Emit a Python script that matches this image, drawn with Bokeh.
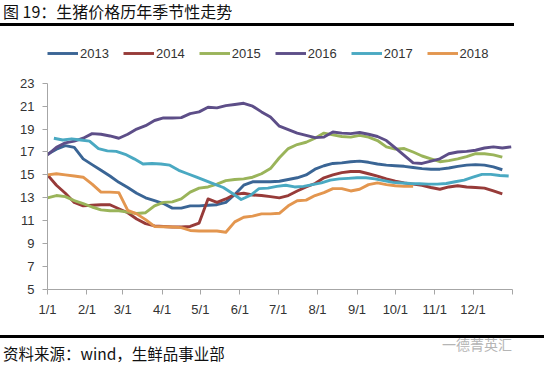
from bokeh.plotting import figure
from bokeh.models import Div, Legend, LegendItem, FixedTicker, Range1d
from bokeh.layouts import column
from bokeh.embed import file_html
from bokeh.resources import INLINE

# ---------------- data (weekly prices, yuan/kg) ----------------
years = ["2013", "2014", "2015", "2016", "2017", "2018"]
colors = ["#3A6595", "#973B39", "#9AB45A", "#5D4E88", "#4AA9C2", "#E3964F"]
start_day = {"2013": 0, "2014": 0, "2015": 0, "2016": 0, "2017": 5, "2018": 0}

p2013 = [16.8, 17.25, 17.55, 17.4, 16.4, 15.9, 15.4, 14.9, 14.35, 13.9, 13.4, 13.0, 12.75,
         12.5, 12.1, 12.1, 12.3, 12.3, 12.35, 12.4, 12.6, 13.3, 14.1, 14.4, 14.4, 14.4,
         14.45, 14.6, 14.75, 15.0, 15.5, 15.8, 16.0, 16.05, 16.15, 16.2, 16.1, 15.95, 15.85,
         15.8, 15.75, 15.65, 15.55, 15.5, 15.5, 15.6, 15.75, 15.85, 15.9, 15.85, 15.7, 15.45]
p2014 = [15.0, 14.1, 13.4, 12.6, 12.3, 12.35, 12.4, 12.4, 12.05, 11.7, 11.15, 10.75, 10.55,
         10.5, 10.45, 10.45, 10.5, 10.8, 12.9, 12.6, 12.9, 13.3, 13.4, 13.25, 13.2, 13.1,
         13.0, 13.2, 13.6, 13.95, 14.25, 14.75, 15.0, 15.2, 15.3, 15.3, 15.1, 14.9, 14.65,
         14.45, 14.3, 14.2, 14.1, 13.9, 13.75, 13.95, 14.05, 13.95, 13.9, 13.85, 13.6, 13.35]
p2015 = [13.0, 13.2, 13.1, 12.75, 12.5, 12.2, 11.95, 11.87, 11.87, 11.75, 11.63, 11.7, 12.3,
         12.6, 12.65, 12.9, 13.5, 13.85, 13.95, 14.2, 14.5, 14.6, 14.65, 14.8, 15.1, 15.55,
         16.5, 17.3, 17.65, 17.85, 18.2, 18.65, 18.5, 18.35, 18.3, 18.45, 18.3, 18.0, 17.45,
         17.25, 17.3, 17.0, 16.65, 16.4, 16.15, 16.25, 16.4, 16.6, 16.85, 16.85, 16.75, 16.55]
p2016 = [16.75, 17.4, 17.8, 17.95, 18.2, 18.6, 18.55, 18.4, 18.2, 18.55, 19.0, 19.3, 19.75,
         19.97, 19.97, 20.0, 20.35, 20.5, 20.9, 20.85, 21.05, 21.15, 21.25, 21.0, 20.5, 20.05,
         19.25, 18.95, 18.65, 18.45, 18.25, 18.3, 18.75, 18.65, 18.6, 18.7, 18.55, 18.35, 18.0,
         17.35, 16.7, 16.05, 16.0, 16.2, 16.4, 16.85, 17.0, 17.05, 17.15, 17.35, 17.45, 17.35,
         17.45]
p2017 = [18.2, 18.05, 18.15, 18.05, 17.95, 17.3, 17.1, 17.05, 16.8, 16.4, 15.95, 16.0, 15.95,
         15.85, 15.4, 15.1, 14.8, 14.5, 14.2, 13.9, 13.4, 12.85, 13.2, 13.8, 13.85, 14.0,
         14.1, 13.95, 14.0, 14.15, 14.3, 14.55, 14.65, 14.7, 14.75, 14.75, 14.65, 14.5, 14.35,
         14.3, 14.25, 14.23, 14.2, 14.2, 14.25, 14.4, 14.55, 14.8, 15.05, 15.05, 14.95, 14.9]
p2018 = [15.0, 15.1, 15.0, 14.9, 14.8, 14.2, 13.5, 13.5, 13.45, 11.9, 11.6, 11.1, 10.5,
         10.47, 10.45, 10.4, 10.15, 10.1, 10.1, 10.1, 10.0, 10.9, 11.3, 11.4, 11.6, 11.6,
         11.65, 12.3, 12.75, 12.8, 13.2, 13.45, 13.8, 13.8, 13.6, 13.75, 14.15, 14.3, 14.15,
         14.05, 14.0, 14.0]
series = {"2013": p2013, "2014": p2014, "2015": p2015,
          "2016": p2016, "2017": p2017, "2018": p2018}

month_days = [0, 31, 59, 90, 120, 151, 181, 212, 243, 273, 304, 334, 365]
month_labels = ["1/1", "2/1", "3/1", "4/1", "5/1", "6/1", "7/1", "8/1", "9/1",
                "10/1", "11/1", "12/1", ""]
y_ticks = [5, 7, 9, 11, 13, 15, 17, 19, 21, 23]

FONT = "Liberation Sans"
TXT = "#333333"

# frame: 249 px tall; value 23 sits 42.7 px below the frame top (room for the legend)
p = figure(width=546, height=308, x_range=Range1d(0, 365), y_range=Range1d(5, 26.73),
           output_backend="svg", toolbar_location=None,
           min_border_left=47, min_border_right=34, min_border_top=13, min_border_bottom=46)
p.outline_line_color = None
p.grid.visible = False
p.background_fill_color = "white"
p.border_fill_color = "white"

items = []
for yr, col in zip(years, colors):
    vals = series[yr]
    xs = [start_day[yr] + 7 * i for i in range(len(vals))]
    r = p.line(xs, vals, line_color=col, line_width=2.9, line_join="round")
    items.append(LegendItem(label=yr, renderers=[r]))

for ax in (p.xaxis[0], p.yaxis[0]):
    ax.axis_line_color = "#A6A6A6"
    ax.major_tick_line_color = "#A6A6A6"
    ax.minor_tick_line_color = None
    ax.major_tick_in = 0
    ax.major_tick_out = 5
    ax.major_label_text_font = FONT
    ax.major_label_text_font_size = "13px"
    ax.major_label_text_color = TXT

p.xaxis.ticker = FixedTicker(ticks=month_days)
p.xaxis.major_label_overrides = {d: lab for d, lab in zip(month_days, month_labels)}
p.xaxis.major_label_standoff = 7
p.yaxis.ticker = FixedTicker(ticks=y_ticks)
p.yaxis.bounds = (5, 23)
p.yaxis.major_label_standoff = 8

legend = Legend(items=items, orientation="horizontal", location=(0, 226),
                padding=0, margin=0, spacing=14, glyph_width=31, glyph_height=20,
                label_standoff=2, border_line_color=None, background_fill_alpha=0,
                label_text_font=FONT, label_text_font_size="13px",
                label_text_color=TXT)
p.add_layout(legend, "center")

title_html = ('<div style="position:relative; left:0px; top:0px; width:514px; '
              'padding-left:3px; padding-top:2px; padding-bottom:3px; '
              'border-bottom:3px solid #000; '
              "font-family:'Noto Sans CJK SC'; font-size:16px; line-height:18px; "
              'color:#111; white-space:nowrap;">图 19：生猪价格历年季节性走势</div>')
title_div = Div(text=title_html, width=546, height=27, margin=0)

footer_html = ('<div style="position:relative; left:0px; width:544px; height:30px; '
               'border-top:3px solid #000;">'
               '<span style="position:absolute; left:3px; top:7px; '
               "font-family:'Noto Sans CJK SC'; font-size:15.5px; line-height:17px; "
               'color:#111; white-space:nowrap;">资料来源：wind，生鲜品事业部</span>'
               '<span style="position:absolute; left:442px; top:-2px; '
               "font-family:'Noto Sans CJK SC'; font-size:14px; line-height:16px; "
               'color:#B5B5B5; white-space:nowrap;">一德菁英汇</span></div>')
footer_div = Div(text=footer_html, width=546, height=36, margin=0)

layout = column(title_div, p, footer_div, spacing=0, margin=0)

with open("out.html", "w") as f:
    f.write(file_html(layout, INLINE))
